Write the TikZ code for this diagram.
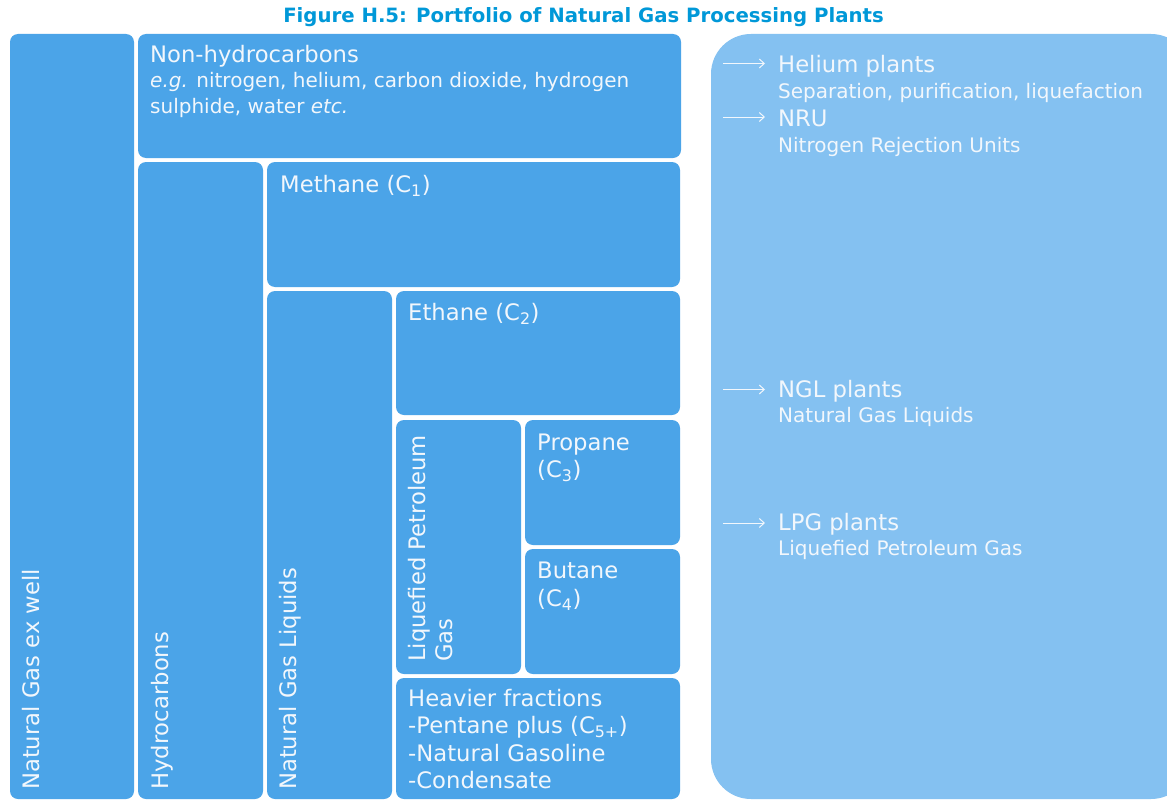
\documentclass[tikz,border=0pt]{standalone}
\usepackage{fontspec}
\setmainfont{DejaVu Sans}
\usetikzlibrary{arrows.meta}
\definecolor{boxc}{HTML}{4BA4E8}
\definecolor{panelc}{HTML}{84C1F1}
\definecolor{titlec}{HTML}{0098D8}
\definecolor{txtc}{HTML}{F2F7FC}
\begin{document}
\begin{tikzpicture}[x=1pt,y=-1pt,
  box/.style={shape=rectangle, fill=boxc, draw=none, rounded corners=8pt, inner sep=0pt, outer sep=0pt, anchor=north west},
  panel/.style={shape=rectangle, fill=panelc, draw=none, rounded corners=40pt, inner sep=0pt, outer sep=0pt, anchor=north west},
  big/.style={font=\fontsize{22.7}{27}\selectfont, text=txtc, inner sep=0pt, anchor=base west},
  small/.style={font=\fontsize{20}{24}\selectfont, text=txtc, inner sep=0pt, anchor=base west},
  vbig/.style={big, rotate=90},
  arr/.style={draw=txtc, line width=1pt, -{Straight Barb[length=5pt,width=9pt]}},
  ttl/.style={font=\fontsize{19.7}{23}\selectfont\bfseries, text=titlec, inner sep=0pt, anchor=base}]
\useasboundingbox (0,0) rectangle (1167,800);
\clip (0,0) rectangle (1167,800);
\fill[white] (0,0) rectangle (1167,800);
% title
\node[ttl] (title) at (583.5,23) {Figure H.5: Portfolio of Natural Gas Processing Plants};
% boxes
\node[box, minimum width=124pt, minimum height=765pt] (well) at (10,34) {};
\node[box, minimum width=543pt, minimum height=124pt] (nonhc) at (138,34) {};
\node[box, minimum width=125pt, minimum height=637pt] (hc) at (138,162) {};
\node[box, minimum width=413pt, minimum height=125pt] (methane) at (267,162) {};
\node[box, minimum width=125pt, minimum height=508pt] (ngl) at (267,291) {};
\node[box, minimum width=284pt, minimum height=124pt] (ethane) at (396,291) {};
\node[box, minimum width=125pt, minimum height=254pt] (lpg) at (396,420) {};
\node[box, minimum width=155pt, minimum height=125pt] (propane) at (525,420) {};
\node[box, minimum width=155pt, minimum height=125pt] (butane) at (525,549) {};
\node[box, minimum width=284pt, minimum height=121pt] (heavy) at (396,678) {};
\node[panel, minimum width=480pt, minimum height=765pt] (plants) at (711,34) {};
% box texts
\node[vbig] (twell) at (39.5,790) {Natural Gas ex well};
\node[vbig] (thc) at (168.5,790) {Hydrocarbons};
\node[vbig] (tngl) at (296,790) {Natural Gas Liquids};
\node[vbig] (tlpg1) at (425,662) {Liquefied Petroleum};
\node[vbig] (tlpg2) at (452,662) {Gas};
\node[big] (tnon) at (150,63) {Non-hydrocarbons};
\node[small] (tnon2) at (150,87) {\textit{e.g.} nitrogen, helium, carbon dioxide, hydrogen};
\node[small] (tnon3) at (150,113) {sulphide, water \textit{etc.}};
\node[big] (tmeth) at (280,192) {Methane (C\textsubscript{1})};
\node[big] (teth) at (408,320) {Ethane (C\textsubscript{2})};
\node[big] (tprop1) at (537,450) {Propane};
\node[big] (tprop2) at (537,477) {(C\textsubscript{3})};
\node[big] (tbut1) at (537,578) {Butane};
\node[big] (tbut2) at (537,606) {(C\textsubscript{4})};
\node[big] (thv1) at (408,706.5) {Heavier fractions};
\node[big] (thv2) at (408,733.5) {-Pentane plus (C\textsubscript{5+})};
\node[big] (thv3) at (408,761) {-Natural Gasoline};
\node[big] (thv4) at (408,788) {-Condensate};
% plants
\node[big] (phe) at (778,73) {Helium plants};
\node[small] (phe2) at (778,99) {Separation, purification, liquefaction};
\node[big] (pnru) at (778,126) {NRU};
\node[small] (pnru2) at (778,152) {Nitrogen Rejection Units};
\node[big] (pngl) at (778,397) {NGL plants};
\node[small] (pngl2) at (778,422) {Natural Gas Liquids};
\node[big] (plpg) at (778,530) {LPG plants};
\node[small] (plpg2) at (778,555) {Liquefied Petroleum Gas};
% arrows
\coordinate (a1) at (723,63.5); \coordinate (b1) at (765,63.5);
\coordinate (a2) at (723,117); \coordinate (b2) at (765,117);
\coordinate (a3) at (723,389.5); \coordinate (b3) at (765,389.5);
\coordinate (a4) at (723,523); \coordinate (b4) at (765,523);
\draw[arr] (a1) -- (b1);
\draw[arr] (a2) -- (b2);
\draw[arr] (a3) -- (b3);
\draw[arr] (a4) -- (b4);
\end{tikzpicture}
\end{document}
